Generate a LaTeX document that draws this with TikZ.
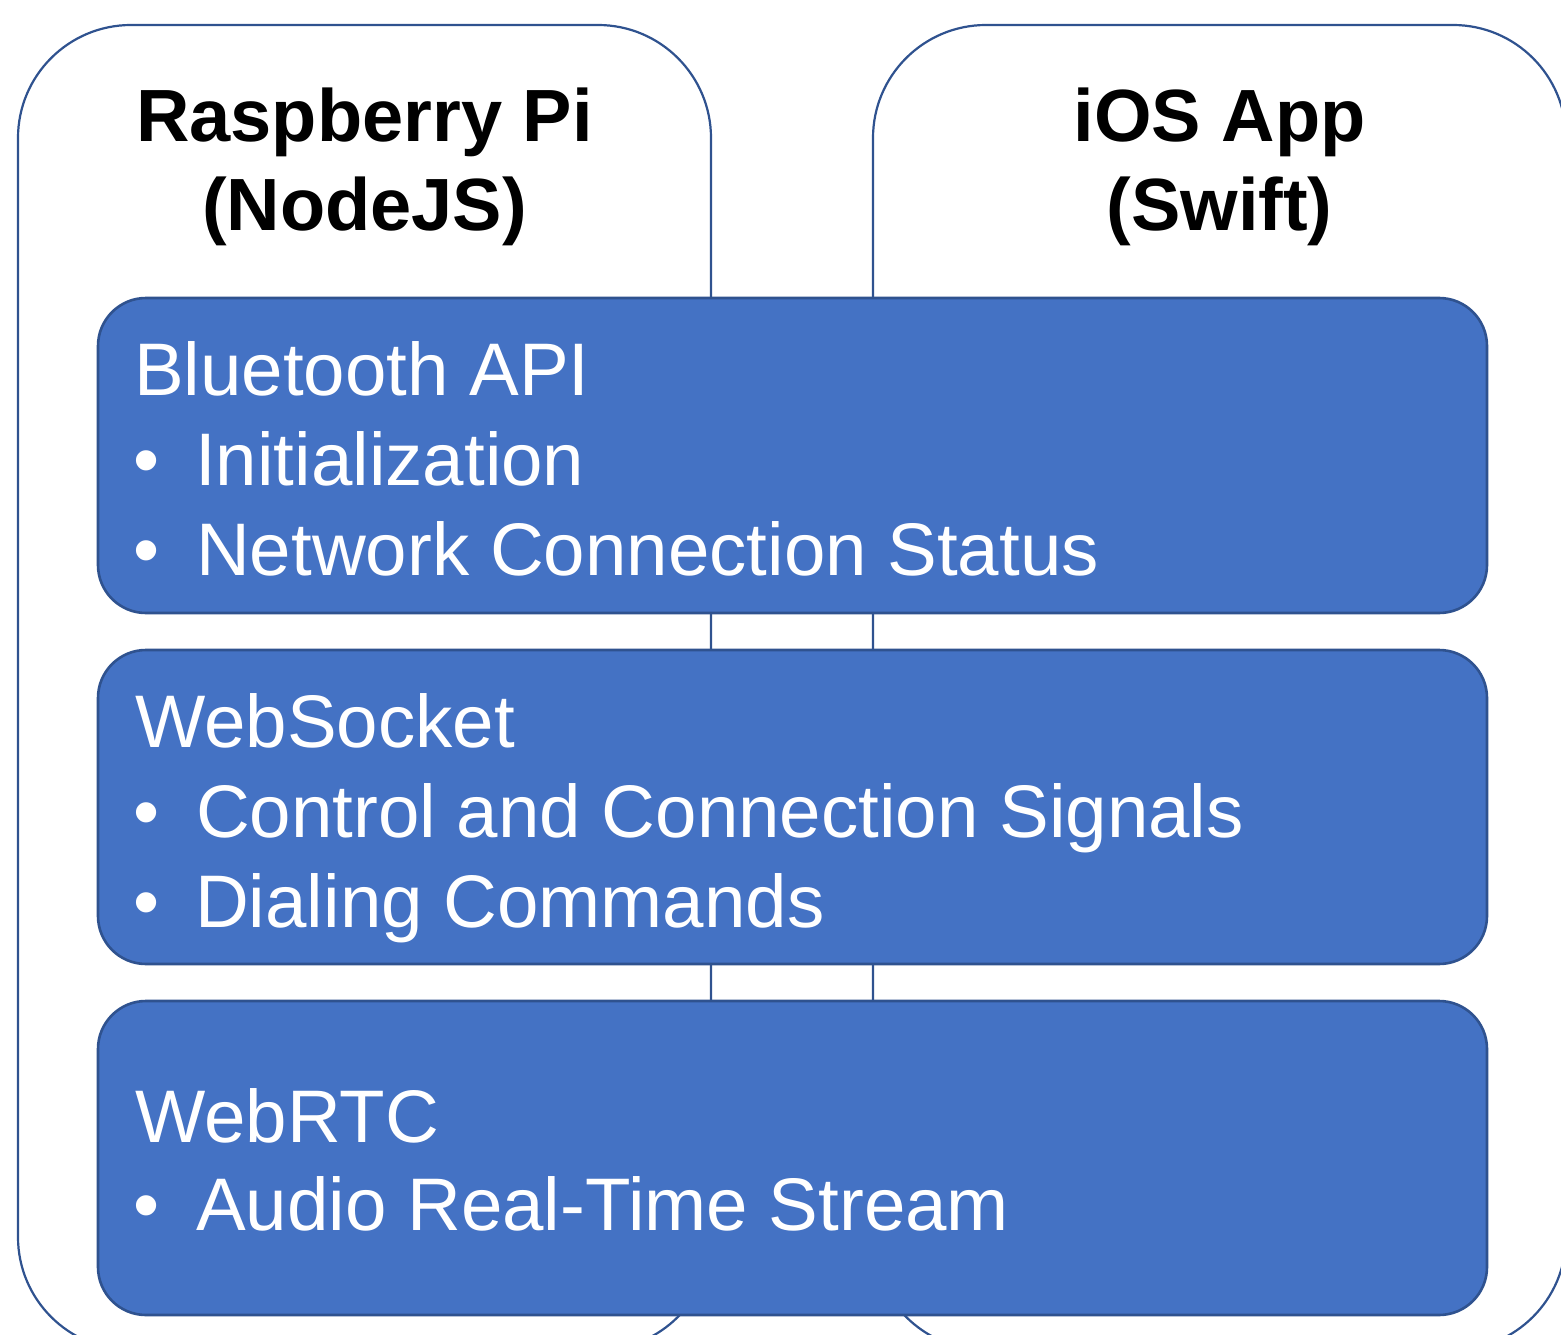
\documentclass[tikz,border=0pt]{standalone}
\usepackage{fontspec}
\setmainfont{Liberation Sans}
\definecolor{boxblue}{HTML}{4472C4}
\definecolor{edgeblue}{HTML}{2F528F}
\begin{document}
\begin{tikzpicture}[x=1pt,y=-1pt,
  container/.style={draw=edgeblue, line width=2.2pt, fill=white, rounded corners=113pt},
  bluebox/.style={draw=edgeblue, line width=2.6pt, fill=boxblue, rounded corners=48pt,
    minimum width=1389pt, anchor=north west, inner sep=0pt, outer sep=0pt},
  title/.style={anchor=base, inner sep=0pt, font=\fontsize{74}{88}\bfseries\selectfont, text=black},
  head/.style={anchor=base west, inner sep=0pt, font=\fontsize{74.5}{88}\selectfont, text=white},
  bul/.style={anchor=base, inner sep=0pt, font=\fontsize{74.5}{88}\selectfont, text=white}]
\useasboundingbox (0,0) rectangle (1561,1335);
\clip (0,0) rectangle (1561,1335);
% containers
\draw[container] (18,25) rectangle (711,1350);
\draw[container] (873,25) rectangle (1566,1350);
\node[title] (rpi1) at (364.5,142) {Raspberry Pi};
\node[title] (rpi2) at (364.5,230) {(NodeJS)};
\node[title] (ios1) at (1219.5,142) {iOS App};
\node[title] (ios2) at (1219.5,230) {(Swift)};
% blue boxes
\node[bluebox, minimum height=315pt] (bt) at (98,298) {};
\node[bluebox, minimum height=314pt] (ws) at (98,650) {};
\node[bluebox, minimum height=314pt] (rtc) at (98,1001) {};
% Bluetooth
\node[head] (btH) at (134,395) {Bluetooth API};
\node[bul] (btB1) at (147,485) {•};
\node[head] (btI1) at (195,485) {Initialization};
\node[bul] (btB2) at (147,575) {•};
\node[head] (btI2) at (196,575) {Network Connection Status};
% WebSocket
\node[head] (wsH) at (135,747) {WebSocket};
\node[bul] (wsB1) at (147,837) {•};
\node[head] (wsI1) at (196,837) {Control and Connection Signals};
\node[bul] (wsB2) at (147,927) {•};
\node[head] (wsI2) at (195,927) {Dialing Commands};
% WebRTC
\node[head] (rtcH) at (135,1142) {WebRTC};
\node[bul] (rtcB1) at (147,1230) {•};
\node[head] (rtcI1) at (196,1230) {Audio Real-Time Stream};
\end{tikzpicture}
\end{document}
